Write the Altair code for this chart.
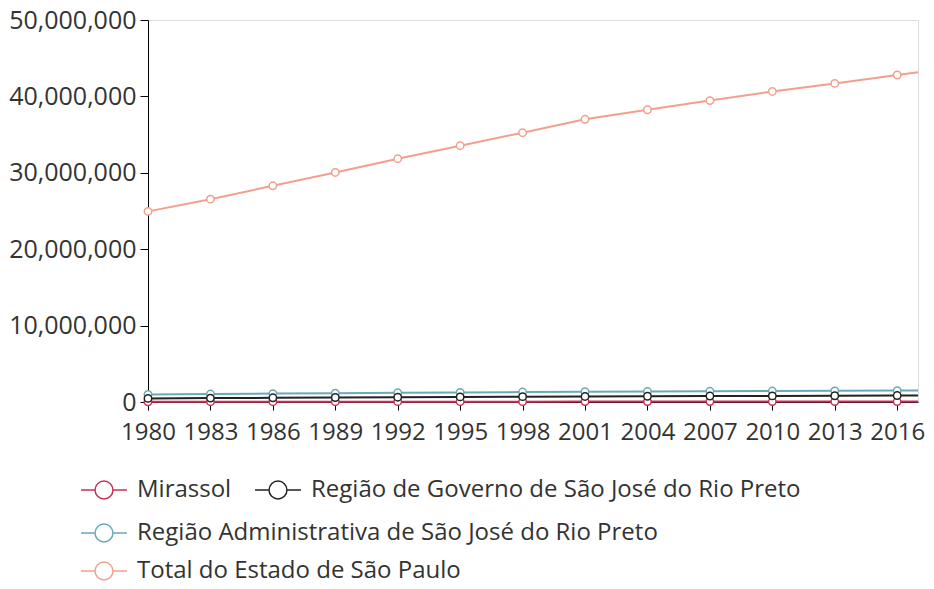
import altair as alt
import pandas as pd

years = [1980, 1983, 1986, 1989, 1992, 1995, 1998, 2001, 2004, 2007, 2010, 2013, 2016, 2017]
tick_years = [1980, 1983, 1986, 1989, 1992, 1995, 1998, 2001, 2004, 2007, 2010, 2013, 2016]
y_ticks = [0, 10000000, 20000000, 30000000, 40000000, 50000000]

mirassol = [36000, 38500, 41000, 43000, 45000, 47000, 49000, 50500, 52000, 53500, 54500, 56500, 58000, 58500]
rg_sjrp = [470000, 510000, 550000, 590000, 630000, 670000, 700000, 730000, 755000, 780000, 800000, 820000, 840000, 845000]
ra_sjrp = [980000, 1040000, 1100000, 1150000, 1200000, 1250000, 1300000, 1340000, 1370000, 1400000, 1430000, 1460000, 1490000, 1500000]
total_sp = [24950000, 26550000, 28300000, 30050000, 31850000, 33550000, 35250000, 37000000, 38250000, 39450000, 40650000, 41700000, 42800000, 43150000]

names_a = ["Mirassol", "Região de Governo de São José do Rio Preto"]
names_b = ["Região Administrativa de São José do Rio Preto", "Total do Estado de São Paulo"]
colors_a = ["#cc2f55", "#222222"]
colors_b = ["#6aa9b8", "#f2a08e"]

rows = []
for name, vals in zip(names_a + names_b, [mirassol, rg_sjrp, ra_sjrp, total_sp]):
    for yr, v in zip(years, vals):
        rows.append({"year": yr, "value": v, "series": name})
df = pd.DataFrame(rows)

FONT = "Open Sans"
sym = "M-1,0L-0.39,0M0.39,0L1,0M-0.39,0A0.39,0.39,0,1,0,0.39,0A0.39,0.39,0,1,0,-0.39,0Z"

x_enc = alt.X("year:Q", scale=alt.Scale(domain=[1980, 2017], nice=False, zero=False),
              axis=alt.Axis(values=tick_years, format="d", title=None, grid=False,
                            domainColor="#000", tickColor="#000", tickSize=8,
                            labelFontSize=24, labelColor="#333", labelPadding=10,
                            labelFont=FONT, labelFlush=False, labelOverlap=False))
y_enc = alt.Y("value:Q", scale=alt.Scale(domain=[0, 50000000], nice=False),
              axis=alt.Axis(values=y_ticks, format=",d", title=None, grid=False,
                            domainColor="#000", tickColor="#000", tickSize=8,
                            labelFontSize=25, labelColor="#333", labelPadding=4,
                            labelFont=FONT))


def legend(x, y, cols, direction):
    return alt.Legend(title=None, orient="none", legendX=x, legendY=y, columns=cols,
                      direction=direction, symbolType=sym, symbolSize=2116,
                      symbolFillColor="white", symbolStrokeWidth=1.5,
                      labelFontSize=24, labelFont=FONT, labelColor="#333",
                      labelOffset=9, columnPadding=20, rowPadding=2,
                      gridAlign="none", labelLimit=0)


def group(names, colors, leg):
    sub = df[df.series.isin(names)]
    color = alt.Color("series:N", scale=alt.Scale(domain=names, range=colors), legend=leg)
    line = alt.Chart(sub).mark_line(strokeWidth=2).encode(x=x_enc, y=y_enc, color=color)
    pts = alt.Chart(sub).transform_filter("datum.year % 3 == 0").mark_point(
        filled=False, fill="white", fillOpacity=1, size=55, strokeWidth=1.5, opacity=1
    ).encode(x=x_enc, y=y_enc, color=color)
    return alt.layer(line, pts)


layer_a = group(names_a, colors_a, legend(-68, 446, 2, "horizontal"))
layer_b = group(names_b, colors_b, legend(-68, 489, 1, "vertical"))

chart = alt.layer(layer_b, layer_a).resolve_scale(color="independent").properties(
    width=770, height=382,
    autosize=alt.AutoSizeParams(type="none"),
    padding={"left": 140, "top": 12, "right": 8, "bottom": 185},
).configure_view(stroke=None).configure(font=FONT)

chart.save("out.html", embed_options={"renderer": "svg", "actions": False})
